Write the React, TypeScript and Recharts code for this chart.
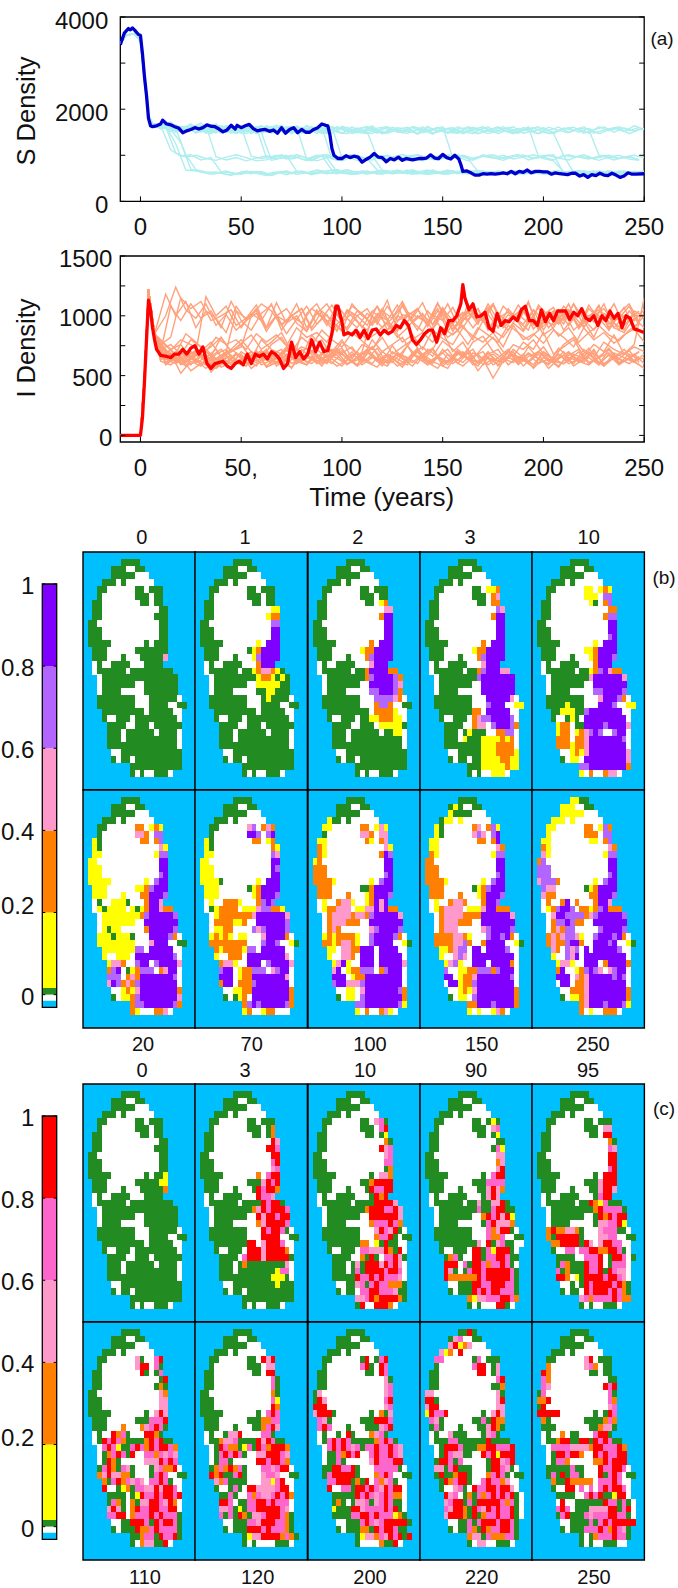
import React from "react";
import { LineChart, Line, XAxis, YAxis, ReferenceArea, ScatterChart, Scatter, BarChart, Bar } from "recharts";

const FONT = "'Liberation Sans', Arial, sans-serif";

// ---------- line charts data ----------
const xTicks = [0, 50, 100, 150, 200, 250];
const xTickLabelsS = ["0", "50", "100", "150", "200", "250"];
const xTickLabelsI = ["0", "50,", "100", "150", "200", "250"];
const sTicks = [0, 1000, 2000, 3000, 4000];
const sTickLabels = ["0", "", "2000", "", "4000"];
const iTicks = [0, 250, 500, 750, 1000, 1250, 1500];
const iTickLabels = ["0", "", "500", "", "1000", "", "1500"];

const gridTimes = [10,15,20,25,30,35,40,45,50,55,60,65,70,75,80,85,90,95,100,105,110,115,120,125,130,135,140,145,150,155,160,165,170,175,180,185,190,195,200,205,210,215,220,225,230,235,240,245,250];
const sHead: number[][] = [[-10,3430],[-7,3600],[-3,3640],[0,3480],[2,2600],[4,1850],[6,1680]];
const iHead: number[][] = [[-10,0],[0,0],[2,500],[4,1220],[7,850]];

const sLight: number[][] = [
[1640,1590,1560,1620,1500,1600,1560,1490,1640,1530,1580,1500,1620,1560,1480,1540,1600,1510,1470,1560,1620,1500,1480,1560,1610,1470,1540,1590,1500,1480,1620,1550,1470,1530,1600,1510,1560,1620,1470,1540,1600,1500,1580,1470,1560,1620,1540,1600,1050],
[1580,1680,1500,1540,1640,1470,1610,1570,1500,1660,1480,1620,1530,1590,1500,1630,1470,1560,1610,1490,1530,1640,1470,1550,1500,1620,1560,1460,1590,1530,1480,1610,1540,1500,1570,1620,1480,1530,1600,1490,1570,1610,1480,1550,1620,1500,1590,1530,1580],
[1620,1550,1630,1480,1580,1650,1510,1560,1620,1470,1600,1550,1490,1640,1520,1580,1480,1610,1560,1500,1470,1590,1620,1510,1480,1560,1530,1610,1480,1570,1600,1470,1540,1620,1500,1580,1530,1470,1610,1540,1490,1590,1560,1010,960,930,980,900,1010],
[1600,1720,1540,1600,1560,1650,1480,1620,1500,1580,1640,1490,1560,1620,1480,1530,1600,1560,1470,1620,1510,1470,1590,1550,1490,1620,1570,1480,1530,1590,1470,1560,1620,1500,1540,1470,1600,1530,1590,1480,1000,960,1010,930,970,900,960,1000,950],
[1660,1500,1590,1640,1480,1560,1610,1520,1470,1600,1560,1650,1490,1540,1620,1470,1580,1530,1610,1490,1560,1480,1620,1500,1570,1460,1600,1540,1490,1620,1530,1470,1560,1600,1510,1480,1620,980,1000,950,1010,960,920,980,1000,930,960,900,990],
[1610,1640,1520,1580,1650,1500,1570,1610,1480,1550,1630,1500,1590,1470,1600,1540,1490,1620,1560,1480,1520,1610,1470,1570,1530,1600,1490,1540,1620,950,1000,940,980,1010,930,970,1000,940,980,1010,620,650,600,640,610,650,590,630,660],
[1620,1050,960,1000,930,890,960,1010,950,880,900,960,1000,650,620,680,640,600,660,640,610,660,620,650,600,640,680,620,600,650,630,670,610,590,640,620,650,600,640,660,620,590,640,650,610,630,600,640,620],
[1650,1120,980,1010,900,950,640,620,590,650,610,560,640,600,650,580,660,610,640,590,650,620,660,600,630,680,610,640,590,650,620,660,600,640,610,650,590,630,670,610,640,590,620,650,600,640,610,650,620],
[1640,1250,680,660,620,640,580,600,660,610,560,630,660,590,620,640,600,670,620,650,590,640,610,680,620,600,650,630,590,640,660,610,620,600,650,630,670,610,590,640,620,650,600,660,620,590,630,650,610],
[1600,1560,1280,700,640,590,620,560,640,600,650,570,640,610,660,600,640,680,610,590,650,620,660,600,640,590,630,670,610,650,600,620,660,590,640,610,650,630,600,660,610,640,590,620,650,610,600,640,620],
[1660,1580,1620,1500,1640,970,900,950,880,940,990,920,960,1010,940,880,950,640,690,620,660,600,640,670,620,650,590,630,660,610,640,600,650,620,590,640,660,610,630,600,650,620,590,640,610,660,620,600,640],
[1600,1650,1540,1590,1700,1520,1640,1560,1610,980,930,960,1010,920,980,900,1000,950,880,960,920,990,680,640,610,650,620,680,600,640,660,610,650,590,630,670,620,600,650,610,640,590,660,620,600,640,610,650,630],
[1640,1560,1620,1500,1580,1680,1490,1600,1520,1620,950,1000,920,960,880,990,1010,930,970,890,950,1000,920,980,930,1010,950,900,970,1010,930,650,610,660,620,600,640,610,650,590,630,670,610,640,600,650,620,590,640],
[1590,1620,1560,1680,1510,1600,1640,1500,1570,1640,1500,890,950,1000,920,880,990,680,640,610,660,620,590,650,630,680,610,600,640,660,620,590,650,610,640,600,670,620,610,650,590,640,620,660,610,630,600,650,620],
[1620,1540,1600,1650,1490,1580,1620,1530,1600,1480,1640,1560,1510,1620,920,1000,960,890,950,1000,930,680,640,620,660,600,650,610,680,630,600,650,620,590,640,660,610,630,600,650,620,590,640,610,660,620,600,640,630],
[1650,1510,1630,1560,1600,1490,1620,1550,1600,1500,1640,1480,1570,1620,1500,1590,1530,1620,950,1010,930,980,900,960,1020,950,880,990,930,1000,960,900,980,940,1000,920,960,1010,930,880,640,610,650,600,640,620,660,590,630],
[1600,1660,1520,1590,1620,1480,1650,1540,1590,1500,1620,1560,1480,1610,1540,1600,1470,1620,1530,1590,1510,960,1000,920,980,1010,930,900,1010,960,880,950,1000,930,970,1020,900,960,1000,940,900,980,950,890,960,1000,920,890,1000],
[1570,1620,1500,1650,1560,1480,1620,1530,1590,1470,1640,1510,1570,1620,1490,1600,1540,1480,1630,1560,1500,1590,1470,1610,1540,1500,1620,1480,1570,1600,1510,1470,1590,1540,1620,1480,1560,1600,1500,1470,1590,1530,1620,1480,1550,1600,1510,1640,1560],
[1630,1530,1610,1560,1660,1500,1590,1470,1620,1540,1500,1610,1570,1480,1650,1530,1600,1510,1470,1580,1620,1540,1490,1600,1560,1470,1630,1510,1580,1480,1600,1540,1620,1470,1560,1500,1600,1470,1540,1610,1500,1570,1480,1620,1530,1590,1470,1560,1620],
[1620,1600,1580,1640,1500,1590,1620,1480,1560,1630,1500,1570,1650,1490,1600,1540,1620,920,980,1010,940,900,990,950,1020,930,880,960,1000,940,980,900,1010,950,890,970,1000,930,960,900,1000,620,660,600,640,610,650,590,630],
[1640,1580,1010,690,640,610,660,590,620,650,600,640,580,660,620,600,650,690,620,590,640,600,660,620,680,610,590,640,660,600,630,670,600,650,620,590,640,660,610,600,650,630,590,620,660,610,640,600,650],
];

const iLight: number[][] = [
[680,640,700,610,650,720,590,680,640,610,700,650,590,680,730,620,660,700,600,650,720,640,610,690,650,600,720,660,620,700,640,680,590,650,720,610,690,640,600,730,650,620,700,590,680,640,710,610,660],
[620,590,660,540,600,650,570,610,680,560,630,690,600,570,650,700,610,640,580,680,620,740,600,650,570,690,640,600,720,630,580,660,700,590,640,610,680,560,650,610,700,580,640,690,600,650,720,620,560],
[700,650,620,670,720,640,600,690,630,710,580,650,740,620,680,600,660,730,640,590,700,630,680,610,750,650,590,670,720,600,690,540,650,620,710,590,660,700,620,680,600,640,730,610,670,590,650,700,640],
[650,720,590,640,690,530,620,670,600,650,710,590,640,700,620,660,580,690,730,610,650,600,700,640,590,680,620,720,580,650,610,690,640,480,620,700,580,660,740,620,600,680,640,710,590,650,620,680,600],
[720,610,680,630,560,640,700,620,580,690,650,600,720,640,590,670,610,700,650,580,640,730,600,680,620,700,590,650,610,720,640,580,690,620,660,600,740,640,590,680,620,700,600,650,730,610,640,590,700],
[630,690,520,620,580,660,610,570,640,700,590,630,680,560,720,640,600,670,620,700,590,650,610,750,640,580,680,620,690,600,660,720,590,640,610,680,630,570,700,640,600,660,610,720,580,650,690,620,650],
[1000,1240,1050,980,1100,920,1010,880,960,1060,900,1000,850,970,1080,930,1010,870,1040,950,880,1020,960,1090,900,1000,940,1060,870,990,1040,930,1100,960,880,1010,940,1070,900,990,1030,920,960,1080,900,1020,960,880,1000],
[760,820,1150,1060,1120,960,1000,1050,900,1020,960,1100,880,1000,940,1060,1000,890,970,1080,1020,920,1040,980,1120,950,870,1010,960,1070,900,1030,980,1100,920,1000,1060,890,980,1040,930,1100,970,880,1020,950,1070,900,1000],
[700,640,620,700,1160,1000,1080,920,980,1040,870,1000,950,1100,900,1020,960,880,1050,1000,920,1080,960,870,1030,990,940,1110,900,1000,960,1060,880,1020,940,1090,980,900,1040,960,1100,890,1000,1050,930,980,1080,920,1040],
[660,620,700,590,680,620,650,700,740,1000,1100,1040,920,1000,1060,880,980,1090,950,1020,900,1040,970,880,1100,960,1010,930,1070,890,1000,1050,950,1090,900,980,1040,920,1010,1070,880,990,1030,950,1100,900,1000,960,1050],
[640,700,580,620,700,640,590,680,620,660,700,600,650,720,1020,1100,950,1010,880,1000,1060,930,1080,960,1000,880,1040,950,1100,920,1000,1060,890,980,1030,950,1110,900,1000,1050,920,1040,960,1090,880,1010,970,1040,900],
[700,650,600,680,720,630,660,590,700,640,610,680,720,600,650,700,640,720,680,610,700,1000,900,980,1080,940,1020,880,1060,960,1030,900,1000,1100,930,1010,880,1050,970,920,1080,1000,900,1040,960,1100,920,1010,990],
[750,680,850,780,700,820,760,800,720,850,780,840,750,900,820,860,780,920,840,880,800,860,950,820,900,780,860,940,820,880,760,900,840,780,920,860,800,880,950,830,900,780,860,920,840,790,880,940,860],
[660,710,800,760,690,740,820,700,770,840,720,780,860,700,820,750,880,800,740,860,790,720,850,910,780,840,720,880,810,760,900,830,780,860,740,920,800,850,770,880,820,740,900,800,860,770,840,890,780],
[600,640,580,700,610,560,660,600,640,700,570,610,680,620,590,720,650,580,630,700,610,570,680,640,590,720,630,600,560,690,640,610,700,580,650,620,680,600,640,570,690,610,650,590,720,640,600,660,620],
[800,720,760,650,700,780,660,720,800,700,640,760,820,680,740,700,800,660,780,720,640,800,700,760,820,680,740,660,790,720,650,780,830,700,640,760,720,800,680,640,760,820,700,650,780,720,680,760,1150],
[610,660,700,640,590,680,720,610,650,580,690,640,720,600,660,610,740,670,590,650,700,620,580,690,640,730,610,660,590,700,640,620,680,720,590,660,610,700,640,580,670,720,610,650,690,600,640,700,620],
[740,680,620,700,650,590,640,720,660,610,700,640,590,670,620,710,650,600,690,740,620,660,580,700,640,610,680,730,600,650,700,590,640,680,610,720,650,590,700,630,670,600,720,640,580,690,650,610,680],
[1180,1000,1120,900,1040,980,860,1080,960,1020,900,1110,940,1000,870,1050,920,1090,980,900,1020,960,1130,880,1000,1060,910,1040,980,870,1100,950,1010,900,1060,960,1120,880,1000,940,1050,900,1090,970,1010,880,1040,950,1100],
[700,1080,960,1100,980,1040,900,1120,960,880,1020,1090,930,1000,1060,900,1040,960,870,1100,1000,940,1060,890,1010,980,1110,920,1040,870,1000,1070,950,900,1080,1000,930,1050,880,1020,960,1100,910,1000,1060,940,880,1040,1000],
[640,600,660,710,620,580,700,1040,980,1090,900,1000,1060,940,870,1020,1100,960,900,1040,980,1080,880,1000,950,1060,920,1100,980,880,1030,960,1070,900,1010,950,880,1090,1000,930,1040,900,1060,980,880,1020,1100,950,1010],
[680,620,700,640,600,660,720,630,590,700,650,610,680,730,640,600,690,650,710,620,680,740,640,610,700,800,860,780,900,840,920,800,960,880,820,940,870,1000,840,900,1040,880,960,820,1000,900,860,980,900],
[590,650,610,700,640,560,620,680,600,650,720,580,640,690,610,670,600,720,650,590,700,620,660,580,640,700,610,560,680,630,720,600,650,590,700,640,610,680,560,640,700,620,590,660,720,600,680,640,600],
[720,760,680,800,740,660,820,700,760,640,800,720,680,780,660,840,740,700,800,640,760,720,820,680,740,800,660,720,860,700,780,640,740,820,700,660,780,720,860,680,740,800,660,760,700,840,680,740,700],
];

const sMain: number[][] = [[-10,3400],[-8,3650],[-6,3750],[-5,3720],[-4,3760],[-3,3720],[-1,3620],[0,3600],[1,3200],[2,2700],[3,2300],[4,1800],[5,1640],[6,1620],[8,1640],[10,1680],[11,1760],[13,1680],[15,1660],[17,1620],[19,1590],[21,1490],[23,1530],[25,1560],[27,1600],[29,1570],[31,1600],[33,1660],[35,1630],[37,1620],[39,1570],[41,1510],[43,1550],[45,1650],[47,1570],[48,1650],[50,1600],[52,1640],[54,1670],[56,1580],[58,1530],[60,1550],[62,1560],[64,1520],[66,1550],[68,1480],[70,1600],[72,1480],[74,1560],[76,1600],[78,1490],[80,1560],[82,1500],[84,1500],[86,1560],[88,1600],[90,1680],[92,1650],[93,1640],[94,1450],[95,1150],[96,1000],[98,930],[100,930],[102,990],[104,950],[106,980],[108,960],[110,850],[112,910],[114,960],[116,1040],[118,960],[120,950],[122,860],[124,930],[126,900],[128,960],[130,890],[132,930],[135,900],[138,930],[140,930],[142,940],[144,1010],[146,940],[148,930],[150,1020],[152,950],[154,920],[156,1000],[158,920],[159,800],[160,650],[162,660],[164,620],[166,570],[168,570],[170,600],[172,590],[174,600],[176,590],[178,600],[180,620],[182,600],[184,650],[186,600],[188,650],[190,630],[192,680],[194,620],[196,650],[198,650],[200,640],[202,640],[204,590],[206,620],[208,600],[210,590],[212,580],[214,610],[216,610],[218,550],[220,580],[222,520],[224,580],[226,560],[228,610],[230,570],[232,560],[234,610],[236,570],[238,520],[240,550],[242,620],[244,590],[246,590],[250,600]];

const iMain: number[][] = [[-10,0],[0,0],[1,150],[2,450],[3,800],[4,1130],[5,1050],[6,900],[7,800],[8,720],[10,670],[13,660],[15,650],[17,680],[19,680],[21,720],[23,680],[25,730],[27,750],[29,680],[31,740],[33,600],[35,560],[37,600],[39,610],[41,620],[43,580],[45,560],[47,600],[49,620],[51,590],[53,680],[55,600],[57,680],[59,660],[61,680],[63,640],[65,700],[67,680],[69,640],[71,560],[73,600],[75,780],[77,650],[79,700],[81,640],[83,680],[85,800],[87,700],[89,780],[91,700],[93,710],[95,850],[97,1080],[98,1080],[100,950],[101,840],[103,860],[105,840],[107,880],[109,820],[111,880],[113,810],[115,880],[117,890],[119,840],[121,880],[123,850],[125,870],[127,920],[129,900],[131,960],[133,920],[135,800],[137,760],[139,800],[141,850],[143,880],[145,880],[147,780],[149,900],[151,850],[153,960],[155,960],[157,1000],[159,1100],[160,1260],[161,1150],[163,1050],[165,1100],[167,990],[169,1000],[171,1030],[173,900],[175,870],[177,1020],[179,920],[181,960],[183,950],[185,990],[187,960],[189,1050],[191,1080],[193,960],[195,960],[197,920],[199,1050],[201,950],[203,1020],[205,960],[207,1040],[209,1040],[211,1040],[213,970],[215,1030],[217,1000],[219,1060],[221,980],[223,960],[225,1000],[227,920],[229,1000],[231,960],[233,1040],[235,980],[237,1020],[239,900],[241,1000],[243,980],[245,890],[247,880],[250,860]];

// ---------- map data ----------
const B = [
".......gggg..........",".....gggwwgg.........",".....gggggwww........","...gggwgwwwwww.......",
"..ggwwwwwwggwggg.....","..gwwwwwwwgggwgg.....",".ggwwwwwwwwggwgg.....",".ggwwwwwwwwwwwwgg....",
".ggwwwwwwwwwwwggg....","ggwwwwwwwwwwwwwgg....","gggwwwwwwwwwwwwgg....","gggwwwwwwwwwwwwgg....",
"gggggwwwwwwwgwggg....",".gggwwwwwwggggggg....",".gggwwwgwwwgggggp....",".wgwwggggwwwgggg.....",
".wggggggwggggggggg...","..wgggggggggggggggg..","..wgggggggwwggggggg..","..wggggwwwwwggggggg..",
"..ggggggggwwwggggggw.","..ggggggggwwwggggwwgg","...gggggggggwgggggww.","...gwwgggwgggggggggw.",
"....ggggwwgggwgggggg.","....gggwggggggwggggw.","....gggwgggggggggggw.","....gggggggggggggggw.",
".....wwggggggggggggg.",".....gwggwgggggggggg.",".........ggggggggggg.",".........gwgwwgggw...",
];
const b0 = B;
const b1 = [...B.slice(0,7),".ggwwwwwwwwwwwwyy....",".ggwwwwwwwwwwwyoo....","ggwwwwwwwwwwwwwll....","gggwwwwwwwwwwwwvv....","gggwwwwwwwwwwwwvv....","gggggwwwwwwwywvvv....",".gggwwwwwwgyovvvv....",".gggwwwgwwwylvvvv....",".wgwwggggwwwovvv.....",".wggggggwggyoppoyg...","..wgggggggggyooygyg..","..wgggggggwwyyyyygg..","..wggggwwwwwggyyggg..","..ggggggggwwwgyggggw.",...B.slice(21)];
const b2 = [...B.slice(0,6),".ggwwwwwwwwggwyo.....",".ggwwwwwwwwwwwwpp....",".ggwwwwwwwwwwwovv....","ggwwwwwwwwwwwwwvv....","gggwwwwwwwwwwwwvv....","gggwwwwwwwwwwwwvv....","gggggwwwwwwwowvvv....",".gggwwwwwwyoovvvv....",".gggwwwgwwwolvvvv....",".wgwwggggwwwpvvv.....",".wggggggwggovvvvoo...","..wggggggggolvvvvlo..","..wgggggggwwvvvvvlp..","..wggggwwwwwllvvvlo..","..ggggggggwwwllllpow.","..ggggggggwwwollowwgg","...gggggggggwooooyww.","...gwwgggwggyyoooyyw.","....ggggwwgggwyyyyyg.","....gggwggggggwggyyw.",...B.slice(26)];
const b3 = [...B.slice(0,4),"..ggwwwwwwggwyyo.....","..gwwwwwwwgggwop.....",".ggwwwwwwwwggwoo.....",".ggwwwwwwwwwwwwlp....",".ggwwwwwwwwwwwovv....","ggwwwwwwwwwwwwwvv....","gggwwwwwwwwwwwwvv....","gggwwwwwwwwwwwwvv....","gggggwwwwwwwowvvv....",".gggwwwwwwyoovvvv....",".gggwwwgwwwolvvvv....",".wgwwggggwwwpvvv.....",".wggggggwggolvvvpp...","..wgggggggglvvvvvvv..","..wgggggggwwvvvvvvv..","..wggggwwwwwvvvvvvv..","..ggggggggwwwvvvvvpw.","..ggggggggwwwlvvvwwyy","...gggggggoowvvvvvww.","...gwwgggwopllvvvvlw.","....ggggwwoppwlvvvlo.","....gggwgygggwwoollw.","....gggwygggyyyyoyow.","....ggggggggyyyoooow.",".....wwgggggyyyooooy.",".....gwggwggyyyyooyy.",".........gggyyyyyoyy.",".........gwgwwyyyw..."];
const b4 = [...B.slice(0,4),"..ggwwwwwwyywyoy.....","..gwwwwwwwyyywll.....",".ggwwwwwwwwygwol.....",".ggwwwwwwwwwwwwoo....",".ggwwwwwwwwwwwoll....","ggwwwwwwwwwwwwwvv....","gggwwwwwwwwwwwwvv....","gggwwwwwwwwwwwwlv....","gggggwwwwwwwywvvv....",".gggwwwwwwyyovvvv....",".gggwwwgwwwyovvvl....",".wgwwggggwwwovvv.....",".wggggggwggyolvpoo...","..wggggggggpvvvvvvp..","..wgggggggwwvvvvvvv..","..wggggwwwwwllvvvvl..","..ggggggggwwwpvvvlow.","..ggggygggwwwvvvlwwyy","...ggyyygglvvvvvvvww.","...gwwgygwvvvvvvvvvw.","....yoowggvvvvlvvvvp.","....yoowyoplvlwwlvvw.","....ooowoopvvvvvvvlw.","....oooyoopvvvvvvvvw.",".....wwyoypvvvvvvvvp.",".....gwyywvvvvvvvvvp.",".........llvvvvvvvvo.",".........ywowwoppw..."];
const b5 = [...B.slice(0,4),"..ggwwwwwwoowyoy.....","..gwwwwwwwppowll.....",".ygwwwwwwwwoowol.....",".ygwwwwwwwwwwwwpy....",".yywwwwwwwwwwwyll....","yywwwwwwwwwwwwwvv....","yyywwwwwwwwwwwwvv....","yyywwwwwwwwwwwwlv....","yyyyywwwwwwwywlvv....",".yyywwwwwwyyolvvv....",".yyywwwywwwoovvvl....",".wgwwyyygwwwovvp.....",".wygyyyywygyovvpoo...","..wyyyyyyyyolvvvvvl..","..wyyyyyyywwvvvvvvv..","..wygyywwwwwovvvvvl..","..yyygyyygwwwvvvvlow.","..yyyyyyyywwwpvvvwwgg","...yyyyyyyllwvvvvvww.","...ywwyyywvvvvvvvvlw.","....yppowwlvvwlvvvvp.","....olvwgyolllwopvvw.","....lllwopovvvvvvvlw.","....pvlopolvvvvvvvvw.",".....wwyoypvvvvvvvvo.",".....gwyyolvvvvvvvvp.",".........ollvvvvvvlo.",".........oywwwoopw..."];
const b6 = [...B.slice(0,4),"..ggwwwwwwplwopo.....","..gwwwwwwwvvlwlv.....",".ygwwwwwwwwoowyo.....",".ygwwwwwwwwwwwwoy....",".yywwwwwwwwwwwwlp....","yywwwwwwwwwwwwwvv....","yyywwwwwwwwwwwwvl....","yyywwwwwwwwwwwwvv....","yyyygwwwwwwwywvvv....",".yyywwwwwwgyovvvv....",".yyywwwwwwwyovvvl....",".wywwoooywwwolvl.....",".wgyoooowyyypllooy...","..wyooooooopvvvvvvp..","..wooooyyowwvvvvvvl..","..wyyoowwwwlplvvvvl..","..yoyoywyywwwpvvvvow.","..oooooooowwwlvvlwwyg","...oyooooyllwvvvvvww.","...ywwooowvvvvvvvvpw.","....oppywwvvvwlvvvvp.","....lvvwyoolllwplvvw.","....vvvwyoovvvvvvvpw.","....ovvwooolvvvvvvvw.",".....wwyyoovvvvvvvvo.",".....gwgyowvvvvvvvvo.",".........olvlvvvvvlo.",".........yowwyoowww.."];
const b7 = [...B.slice(0,3),"...yggwgwwwwww.......","..yywwwwwwoowypy.....","..gwwwwwwwppowpp.....",".yywwwwwwwwoywop.....",".oywwwwwwwwwwwwpy....",".oywwwwwwwwwwwovl....","yowwwwwwwwwwwwwvv....","ooowwwwwwwwwwwwvv....","ooowwwwwwwwwwwwlv....","ooooywwwwwwwywlvv....",".ooowwwwwwggovvvv....",".ooowwwowwwyovvvl....",".wywwoppywwyovpv.....",".wyoopppwyyppvpvoo...","..woppppoppolvvvvvp..","..wopppooowwvvvvvvv..","..wopowwwwwwplvvvvl..","..yoyooooywwlvvvvlow.","..ooyoppoywwlvvvvwwyg","...yywppoovvvwvvvvww.","...ywwppowvvvwvvvvvw.","....ypvywwvvvwvvvvvp.","....pvwyoolllwolvvvw.","....vvvwyoovvvvvvvvw.","....lvvppplvvvvvvvvw.",".....wwyywpvvvvvvvlo.",".....gwyywlvvvvvvvvo.",".........llvvvvvvvly.",".........ywowwopyw..."];
const b8 = [B[0],".....gygwwgg.........",".....yggggwww........","...gyywywwwwww.......","..ygwwwwwwopwoly.....","..ygwwwwwwplpwlv.....",".yywwwwwwwwoowov.....",".yywwwwwwwwwwwwpo....",".oywwwwwwwwwwwyll....","oowwwwwwwwwwwwwvv....","ooowwwwwwwwwwwwvv....","ooowwwwwwwwwwwwlv....","ooooywwwwwwwywlvv....",".ooowwwwwwgyolvvv....",".ooowwwowwwyovvvl....",".wywwoppowwwovvl.....",".wyoppppwyyypvvooo...","..woppppoooovvvvvvp..","..wopppooowwvvvvvvv..","..wopppwwwwwplvvvvl..","..ooooppoywwwlvvlvow.","..oooopplowwovvvvwwyg","...yyopllwvvwvvvvlww.","...ywwplpwvvvvvvvvvw.","....yplywwvvvwvvvvow.","....lwwyyoolllolvvvw.","....vvwyoopvvvvvvvlw.","....wvvyoolvvvvvvvvw.",".....wwyoypvvvvvvvvo.",".....gwyywlvvvvvvvvo.",".........oovvvlvvvvo.",".........ywywwypow..."];
const b9 = [".......yygg..........",".....yyywwgg.........",".....yyyyywww........","...yyywywwwwww.......","..yywwwwwwoowylo.....","..ywwwwwwwooowll.....",".yywwwwwwwwyywol.....",".oywwwwwwwwwwwwpo....",".pywwwwwwwwwwwyll....","olwwwwwwwwwwwwwvv....","lllwwwwwwwwwwwwvv....","lllwwwwwwwwwwwwlv....","plllowwwwwwwywlvv....",".lppwwwwwwgyovvvv....",".poowwwwwwwoovvvl....",".wowwovwowwwovvp.....",".wyolvvlwooyolvooo...","..wpvvlllloplvvvvvl..","..wollvloowwvvvvvvv..","..wopollwwwwwlvvvvl..","..opopllpywwlvvvlvow.","..opoolvvowwvvvlvwwyg","...powlplwvwvvvvvlww.","...ywwlpvwvvvvvvvvvw.","....yppywwvvvwovvvvo.","....ovwwyolvlpwplvvw.","....vvvwpopvvvvvlvlw.","....wvvwoopvvvvvvvvw.",".....wwooopvvvvvvvvo.",".....gwyyopvvvvvvvvo.",".........opvvvlvvvly.",".........owywwooow..."];

const c0 = [...B.slice(0,12),"gggggwwwwwwwgwggy....",".gggwwwwwwgggggyy....",".gggwwwgwwwgggggo....",...B.slice(15)];
const c1 = [...B.slice(0,5),"..gwwwwwwwgggwgo.....",".ggwwwwwwwwggwgo.....",".ggwwwwwwwwwwwwrp....",".ggwwwwwwwwwwwrrm....","ggwwwwwwwwwwwwwrr....","gggwwwwwwwwwwwwmr....","gggwwwwwwwwwwwwpm....","gggggwwwwwwwowmrr....",".gggwwwwwwgggprmr....",".gggwwwgwwwgrmrro....",".wgwwggggwwwrmmp.....",".wggggggwggggrmrrg...","..wggggggggoprmrrrm..","..wgggggggwwrprrmrr..","..wggggwwwwwoprrrrm..","..ggggggggwwwrmrrmgw.","..ggggggggwwwrrrrwwgg","...gggggggrrwprrrmww.","...gwwgggwrrrprrrrow.","....ggggwmrrrprrrrrg.","....gggwgoggggggggpw.","....gggwggggggggymmw.","....gggggggggggyyygw.",".....wwgggggggggyggg.",...B.slice(29)];
const c2 = [...B.slice(0,4),"..ggwwwwwwggwpmg.....","..gwwwwwwwgggwmr.....",".ggwwwwwwwwggwgy.....",".ggwwwwwwwwwwwwog....",".ggwwwwwwwwwwwrpm....","ggwwwwwwwwwwwwwpm....","gggwwwwwwwwwwwwmm....","gggwwwwwwwwwwwwgo....","gggggwwwwwwwgwppo....",".gggwwwwwwggorrrr....",".gggwwwgwwwgrmmrr....",".wgwwggggwwwgror.....",".wggggggwggggrrrrp...","..wggggggggorrrmmrp..","..wgggggggwwrrrrrrp..","..wggggwwwwwommmrmo..","..ggggggggwwwprmprgw.","..ggggggggwwwommrgwgg","...gggggggoowygrggww.","...gwwgggwmmppprogrw.","....ggggwwogrgwmmrpg.","....gggwgpgrrrprmrpw.","....gggwgmgrrrrmrrmw.","....gggggrmmrmrmmmpw.",".....wwggpmgmrmmooog.",".....gwggwmmrrmmmpgg.",".........ppmrorrrrog.",".........grwwrrrow..."];
const c3 = [...B.slice(0,4),"..ggwwwwwwggwgyg.....","..gwwwwwwwgggwpm.....",".ggwwwwwwwwggwgy.....",".ggwwwwwwwwwwwwgg....",".ggwwwwwwwwwwwgmy....","ggwwwwwwwwwwwwwpp....","gggwwwwwwwwwwwwop....","gggwwwwwwwwwwwwpr....","gggggwwwwwwwgwmrr....",".gggwwwwwwgggmmmm....",".gggwwwgwwwggprpo....",".wgwwggggwwwgprp.....",".wggggggwggpggpprg...","..wggggggggmggmrrgg..","..wgggggggwwormrpry..","..wggggwwwwwgmrpppo..","..ggggggggwwwmoprrgw.","..ggggggggwwwmoomwwgg","...ggggggggpwrgpmggww","...gwwgggwrrgmyrrrgw.","....gomgwwrrgmmrrmgg.","....rrrwmgrrmommrmgw.","....rpgwgmrrmrrrrrmg.","....roooooormrrrrrmg.",".....wwgggrrmmrrrmmg.",".....gwgggrmrmrrmmmg.",".........oyppmmmrrmo.",".........gwgwwwrrgw.."];
const c4 = [...B.slice(0,4),"..ggwwwwwwggwggg.....","..gwwwwwwwgggwpp.....",".ggwwwwwwwwggwrr.....",".ggwwwwwwwwwwwwog....",".ggwwwwwwwwwwwwmp....","ggwwwwwwwwwwwwwrr....","gggwwwwwwwwwwwwrr....","gggwwwwwwwwwwwwmr....","gggggwwwwwwwgwrrr....",".gggwwwwwwgggprrr....",".gggwwwgwwwggprrp....",".wgwwggggwwwgmrr.....",".wggggggwggroymggg...","..wgggggggggormmmmg..","..wgggggggwwgrormrr..","..wggggwwwwwgppmmry..","..orooppogwwwpmmmggw.","..ogrrrrrgwwwppmmwwgg","...oorrrrgrpwprrmmww.","...gwwmmwmmrroorrmgw.","....ggggwwmmmrwgrrmwg","....gmogggrmmrwgmmmw.","....mgogggrmmrgrmppw.","....rrowygrrrrmrrmpw.",".....wwgwgrmrrrrmrog.",".....gwggwrmrrrmrmog.",".........pmommmmrmoo.",".........gwgwwgggw..."];
const c5 = [...B.slice(0,4),"..ggwwwwwwpgwwmr.....","..gwwwwwwwprrwmg.....",".ggwwwwwwwwrgwgm.....",".ggwwwwwwwwwwwwgr....",".ggwwwwwwwwwwwgog....","ggwwwwwwwwwwwwwpo....","gggwwwwwwwwwwwwpp....","gggwwwwwwwwwwwwpp....","gggggwwwwwwwgwprp....",".gggwwwwwwgggmmmr....",".gggwwwowwwopmrmg....",".wgwwromgwwwrrog.....",".wgrmrmoggggormrgg...","..wmrmyggmrmormrrmo..","..wgomrmgrwwmmompmp..","..wgrogwwwwwppprmrm..","..gmrogmpgwwwgpmoorw.","..oprppoogwwwgmrmwwgg","...ogmrompmpwmmrmgww.","...rwwgyogmmpprprrmw.","....ggggwgyrmmrmrrmr.","....gmogwogpprrmprow.","....prpgwormmrrmmrrw.","....mmrrwommmrmrmmmg.",".....wwggrrrmgrmrrmg.",".....gwgggroomrmmmmg.",".........ggommgrmmrg.",".........gwoppggrw..."];
const c6 = [...B.slice(0,4),"..ggwwwwwwggwrpr.....","..gwwwwwwwgggwpp.....",".ggwwwwwwwwggwrr.....",".ggwwwwwwwwwwwwmg....",".ggwwwwwwwwwwwwmg....","ggwwwwwwwwwwwwwog....","gggwwwwwwwwwwwwmy....","gggwwwwwwwwwwwwro....","gggggwwwwwwwgwmrm....",".gggwwwwwwgggoomm....",".gggwwwgwwwggomrp....",".wgwwgpprwwwwmmg.....",".wggoppmggggrprmgg...","..wgrmoogymgrmorrro..","..wgmrmrmgwwpprrrmp..","..wgmmgwwwwwrrmrrmo..","..gomoromgwwwmmpmrrw.","..rorggmrgwwwpmmpwwgg","...pomggggwwwppymrww.","...gwwgmgwrrppppmrrw.","....ggmgwwmomppmrmro.","....rrmwggmmrrmrmmmw.","....ppmgygmmrrrrrmpw.","....mgmgrogppmrrrmog.",".....wwgggmmprrrmmog.",".....gwgggrrrmrmmmog.",".........gypprrrromog",".........gwgwwwwgggw."];
const c7 = [...B.slice(0,4),"..ggwwwwwwgrwgmr.....","..gwwwwwwwmrgwrm.....",".ggwwwwwwwwggwrm.....",".ggwwwwwwwwwwwwpg....",".ggwwwwwwwwwwwwpm....","gpwwwwwwwwwwwwwpm....","grpwwwwwwwwwwwwmr....","rrrwwwwwwwwwwwwpm....","prrrgwwwwwwwgwogp....",".mpgwwwwwwgggrrrm....",".mrmwwwgwwwgggpmr....",".wgwwgwrgwwwopmg.....",".wgmrmrmgggggomrmg...","..wmrmrmpmgmmrmmrmp..","..wggmormrwwmrmmrmp..","..wggmgwwwwwprmmmrr..","..ggrrmmrgwwwmmmmmgw.","..gmrrrrrgwwwomrmwwgg","...mmrrrgogrwmopmgww.","...rwwmmgrrmrmprmrrw.","....gggggrmrmpmrmoow.","....gogwgppmgpmrmggw.","....ygggrrpmmmmrmrgw.","....ggggmmrrmrmmmyog.",".....wwgggmrmpmrrrrrg",".....gwgggoogrmrrmgg.",".........gyppomprmrgr",".........gwwwwoggrw.."];
const c8 = [".......ggrg..........",".....gpmwwgg.........",".....pryopwww........","...pyowrwwwwww.......","..mmwwwwwwgmwggg.....","..gwwwwwwwmrrwgp.....",".ggwwwwwwwwrrwgp.....",".ggwwwwwwwwwwwwmr....",".ggwwwwwwwwwwwggo....","ppwwwwwwwwwwwwwpg....","rrgwwwwwwwwwwwwpr....","prrwwwwwwwwwwwwpp....","yrmmrwwwwwwwgwprp....",".mpgwwwwwwggmgroo....",".gmgwwwgwwwggprog....",".wgwwpgggwwwgpmg.....",".wgggmmggggggrgggg...","..wgrrrmgggoorrmmmr..","..wgrmppggwwrmryrrr..","..grrmgmwwwwwgrrpmr..","..ppgmrgggwwwgrrmpgw.","..grggorrgwwwomrmgwgg","...gromrrgwwmrmmopww.","...gwwpmgwrmmrrmrrpw.","....rpmwgogmomrmrmrgw","....pmrrgmgrrrrrmomgw","....mprrogrmprmrmmrgw","....prrrogrgommrmmrgw",".....wwggmgmrrrmrrmg.",".....gwggmogrommrrmg.",".........oppgmooommg.",".........gwppwwgggw.."];
const c9 = [...B.slice(0,4),"..ggwwwwwwprwggg.....","..owwwwwwwpmowgg.....",".rowwwwwwwwggwgg.....",".mowwwwwwwwwwwwgg....",".mpwwwwwwwwwwwrmr....","gmwwwwwwwwwwwwwmg....","oorwwwwwwwwwwwwmo....","grwwwwwwwwwwwwwpm....","rrrrrwwwwwwwgwgrm....",".ogwwwwwwwggggomo....",".gggwwwwwwwggoppg....",".wgwwowggwwwmrrg.....",".wggorrggrrgrmrmgg...","..wmmmmpppporrmmmro..","..wgrrmrrowwrmrmmrr..","..wgmmowwwwwoormrrr..","..gggggmggwwwrmmrrmw.","..gmgrgmmgwwwrgmrmwgg","...oggrooooowmmmrmww.","...gwwrrwmwmwmrmrrmw.","....ggggwwmrmrggyrrw.","....wrwwggggggrmmgmgw","....mrmwgggpppprrgmrw","....gmrgggmpmmmrrmmgw",".....wwggggmgmrmrrrrr",".....gwgggmmmrmormpg.",".........gwgommmrmmg.",".........gwgwwgggww.."];

const colorOf: Record<string, string> = { g: "#228B22", w: "#FFFFFF", y: "#FFFF00", o: "#FF7F00", p: "#FF99CC", l: "#B266FF", v: "#7F00FF", m: "#FF66CC", r: "#FF0000" };

const panelsB = [b0, b1, b2, b3, b4, b5, b6, b7, b8, b9];
const panelsC = [c0, c1, c2, c3, c4, c5, c6, c7, c8, c9];
const labelsB1 = ["0", "1", "2", "3", "10"];
const labelsB2 = ["20", "70", "100", "150", "250"];
const labelsC1 = ["0", "3", "10", "90", "95"];
const labelsC2 = ["110", "120", "200", "220", "250"];
const labelXB1 = [141.7, 245, 357.7, 470, 588.7];
const labelXB2 = [143, 251.7, 370, 481.7, 593];
const labelXC1 = [142, 245, 365, 476, 588];
const labelXC2 = [145, 257.7, 370, 481.7, 594];

const barTicks = [0, 0.2, 0.4, 0.6, 0.8, 1];
const barLabels = ["0", "0.2", "0.4", "0.6", "0.8", "1"];
const barValues = [{ name: "b", green: 0.016, yellow: 0.184, orange: 0.2, pink: 0.2, mid: 0.2, top: 0.2, white: -0.015, blue: -0.016 }];
const barColorsB = { top: "#7F00FF", mid: "#B266FF" };
const barColorsC = { top: "#FF0000", mid: "#FF66CC" };

// ---------- layout constants ----------
const PW = 112.4, PH = 238;
const PX = [82.7, 195, 307.7, 420.1, 532.4];
const XD: [number, number] = [-1, 22.8];
const YD: [number, number] = [-1, 34];
const CW = PW / (XD[1] - XD[0]);
const CH = PH / (YD[1] - YD[0]);

const toCells = (rows: string[]) =>
  rows.flatMap((row, r) => row.split("").flatMap((ch, c) => (ch === "." ? [] : [{ x: c + 0.5, y: r + 0.5, k: ch }])));

const CellShape = (props: any) => {
  const k = props.payload?.k ?? props.k;
  return <rect x={props.cx - CW / 2} y={props.cy - CH / 2} width={CW + 0.2} height={CH + 0.2} fill={colorOf[k]} shapeRendering="crispEdges" />;
};

function MapPanel({ rows, left, top }: { rows: string[]; left: number; top: number }) {
  return (
    <div style={{ position: "absolute", left: left - 2, top: top - 2 }}>
      <ScatterChart width={PW + 4} height={PH + 4} margin={{ top: 2, right: 2, bottom: 2, left: 2 }}>
        <XAxis hide type="number" dataKey="x" domain={XD} allowDataOverflow />
        <YAxis hide type="number" dataKey="y" domain={YD} reversed allowDataOverflow />
        <ReferenceArea x1={XD[0]} x2={XD[1]} y1={YD[0]} y2={YD[1]} fill="#00BFFF" fillOpacity={1} stroke="#000" strokeWidth={1.4} ifOverflow="visible" />
        <Scatter data={toCells(rows)} shape={CellShape} isAnimationActive={false} />
      </ScatterChart>
    </div>
  );
}

function Txt({ x, y, size, children, rotate }: { x: number; y: number; size: number; children: React.ReactNode; rotate?: boolean }) {
  return (
    <div style={{ position: "absolute", left: x, top: y, fontFamily: FONT, fontSize: size, lineHeight: 1, whiteSpace: "nowrap", color: "#111", transform: `translate(-50%,-50%)${rotate ? " rotate(-90deg)" : ""}` }}>
      {children}
    </div>
  );
}

const pairs = (a: number[][]) => a.map(([t, v]) => ({ t, v }));
const withHead = (head: number[][], vals: number[], n: number) => [
  ...pairs(head),
  ...vals.map((v, i) => ({ t: gridTimes[i] + (n % 2 === 0 ? 2.5 : 0), v })).filter((p) => p.t <= 250),
];
const sSeries = sLight.map((vals, n) => withHead(sHead, vals, n));
const iSeries = iLight.map((vals, n) => withHead(iHead, vals, n));

function LinePlot({ top, height, yDomain, yTicks, yLabels, xLabels, light, lightColor, lightWidth, main, mainColor, labelDx, labelDy }: any) {
  const L = 120.3, R = 644.2, W = 678;
  const plotW = R - L;
  const YTick = ({ x, y, payload }: any) => {
    const i = yTicks.indexOf(payload.value);
    return (
      <g>
        <line x1={x} x2={x + 5} y1={y} y2={y} stroke="#000" strokeWidth={1} />
        <line x1={x + plotW} x2={x + plotW - 5} y1={y} y2={y} stroke="#000" strokeWidth={1} />
        {yLabels[i] ? <text x={x - labelDx} y={y + labelDy} textAnchor="end" fontFamily={FONT} fontSize={24} fill="#111">{yLabels[i]}</text> : null}
      </g>
    );
  };
  const XTick = ({ x, y, payload }: any) => {
    const i = xTicks.indexOf(payload.value);
    return (
      <g>
        <line x1={x} x2={x} y1={y} y2={y - 5} stroke="#000" strokeWidth={1} />
        <text x={x} y={y + 33.6} textAnchor="middle" fontFamily={FONT} fontSize={24} fill="#111">{xLabels[i]}</text>
      </g>
    );
  };
  return (
    <div style={{ position: "absolute", left: 0, top: top - 10 }}>
      <LineChart width={W} height={height + 60} margin={{ top: 10, left: L - 60, right: W - R, bottom: 20 }}>
        <XAxis type="number" dataKey="t" domain={[-10, 250]} ticks={xTicks} interval={0} height={30} tickSize={0} tickMargin={0} axisLine={false} tickLine={false} tick={XTick} allowDataOverflow />
        <YAxis type="number" dataKey="v" domain={yDomain} ticks={yTicks} interval={0} width={60} tickSize={0} tickMargin={0} axisLine={false} tickLine={false} tick={YTick} allowDataOverflow />
        {light.map((d: any, i: number) => (
          <Line key={i} data={d} dataKey="v" stroke={lightColor} strokeWidth={lightWidth} dot={false} isAnimationActive={false} legendType="none" />
        ))}
        <Line data={pairs(main)} dataKey="v" stroke={mainColor} strokeWidth={3.3} dot={false} isAnimationActive={false} strokeLinejoin="round" />
        <ReferenceArea x1={-10} x2={250} y1={yDomain[0]} y2={yDomain[1]} fill="none" stroke="#000" strokeWidth={1.3} ifOverflow="visible" />
      </LineChart>
    </div>
  );
}

function ColorBar({ top, colors }: { top: number; colors: { top: string; mid: string } }) {
  const H = 423.4;
  const BarTick = ({ x, y, payload }: any) => {
    const i = barTicks.indexOf(payload.value);
    const dy = payload.value === 0.2 ? -7 + 8.6 : 10;
    return (
      <g>
        <line x1={x} x2={x + 3} y1={y} y2={y} stroke="#000" strokeWidth={1} />
        <line x1={x + 14.4} x2={x + 11.4} y1={y} y2={y} stroke="#000" strokeWidth={1} />
        <text x={x - 8} y={y + dy} textAnchor="end" fontFamily={FONT} fontSize={24} fill="#111">{barLabels[i]}</text>
      </g>
    );
  };
  return (
    <div style={{ position: "absolute", left: 0, top: top - 12 }}>
      <BarChart width={70} height={H + 24} data={barValues} stackOffset="sign" barCategoryGap={0} margin={{ top: 12, left: 2.3, right: 13.3, bottom: 12 }}>
        <XAxis hide dataKey="name" />
        <YAxis type="number" domain={[-0.031, 1]} ticks={barTicks} interval={0} width={40} tickSize={0} tickMargin={0} axisLine={false} tickLine={false} tick={BarTick} allowDataOverflow />
        <Bar dataKey="green" stackId="a" fill="#228B22" isAnimationActive={false} />
        <Bar dataKey="yellow" stackId="a" fill="#FFFF00" isAnimationActive={false} />
        <Bar dataKey="orange" stackId="a" fill="#FF7F00" isAnimationActive={false} />
        <Bar dataKey="pink" stackId="a" fill="#FF99CC" isAnimationActive={false} />
        <Bar dataKey="mid" stackId="a" fill={colors.mid} isAnimationActive={false} />
        <Bar dataKey="top" stackId="a" fill={colors.top} isAnimationActive={false} />
        <Bar dataKey="white" stackId="a" fill="#FFFFFF" isAnimationActive={false} />
        <Bar dataKey="blue" stackId="a" fill="#00BFFF" isAnimationActive={false} />
        <ReferenceArea y1={-0.031} y2={1} fill="none" stroke="#000" strokeWidth={1.3} ifOverflow="visible" zIndex={700} />
      </BarChart>
    </div>
  );
}

export default function App() {
  return (
    <div style={{ position: "absolute", left: 0, top: 0, width: 678, height: 1588, background: "#fff", overflow: "hidden" }}>
      <LinePlot top={17.3} height={184.4} yDomain={[0, 4000]} yTicks={sTicks} yLabels={sTickLabels} xLabels={xTickLabelsS} light={sSeries} lightColor="#AFEEEE" lightWidth={1.4} main={sMain} mainColor="#0000CD" labelDx={12} labelDy={11.6} />
      <LinePlot top={255.7} height={186} yDomain={[-55, 1500]} yTicks={iTicks} yLabels={iTickLabels} xLabels={xTickLabelsI} light={iSeries} lightColor="#FFA07A" lightWidth={1.4} main={iMain} mainColor="#FF0000" labelDx={8} labelDy={10.6} />
      <Txt x={27} y={111} size={25.5} rotate>S Density</Txt>
      <Txt x={27} y={348} size={25.5} rotate>I Density</Txt>
      <Txt x={381.8} y={496.7} size={26}>Time (years)</Txt>
      <Txt x={662} y={38} size={19}>(a)</Txt>
      <Txt x={664} y={576.7} size={19}>(b)</Txt>
      <Txt x={664} y={1108} size={19}>(c)</Txt>

      <ColorBar top={584.3} colors={barColorsB} />
      <ColorBar top={1116} colors={barColorsC} />

      {panelsB.map((rows, i) => <MapPanel key={"b" + i} rows={rows} left={PX[i % 5]} top={i < 5 ? 551.7 : 790} />)}
      {panelsC.map((rows, i) => <MapPanel key={"c" + i} rows={rows} left={PX[i % 5]} top={i < 5 ? 1083.5 : 1321.7} />)}

      {labelsB1.map((t, i) => <Txt key={"l1" + i} x={labelXB1[i]} y={537} size={20}>{t}</Txt>)}
      {labelsB2.map((t, i) => <Txt key={"l2" + i} x={labelXB2[i]} y={1044} size={20}>{t}</Txt>)}
      {labelsC1.map((t, i) => <Txt key={"l3" + i} x={labelXC1[i]} y={1070} size={20}>{t}</Txt>)}
      {labelsC2.map((t, i) => <Txt key={"l4" + i} x={labelXC2[i]} y={1576.7} size={20}>{t}</Txt>)}
    </div>
  );
}
